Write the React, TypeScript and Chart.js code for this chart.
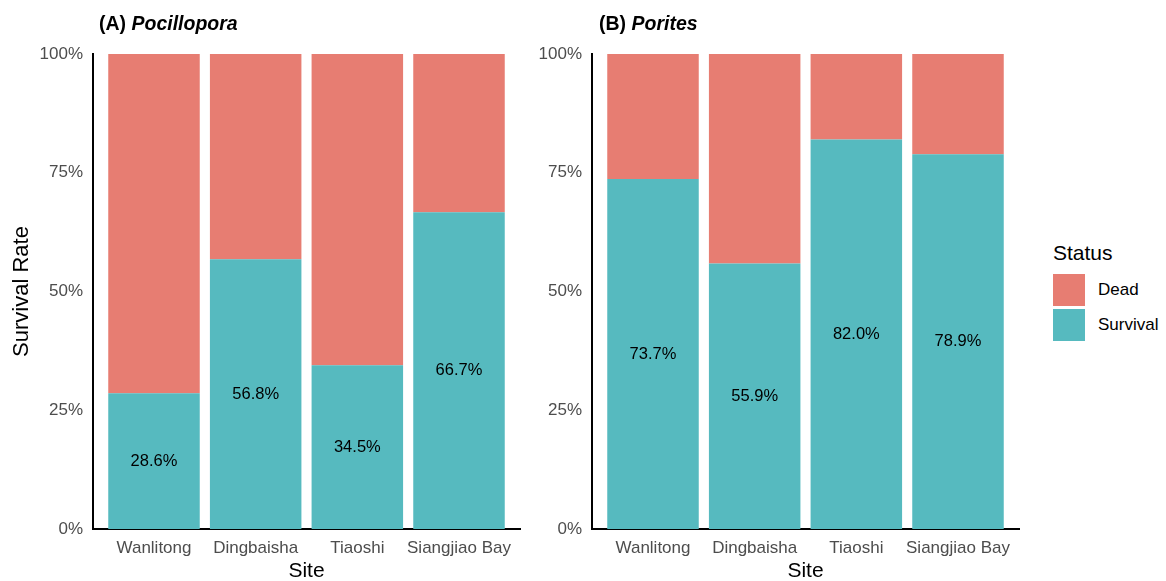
import React, { useEffect, useRef } from "react";
import { Chart, registerables } from "chart.js";

Chart.register(...registerables);

// Site categories and survival percentages per genus
const sites = ["Wanlitong", "Dingbaisha", "Tiaoshi", "Siangjiao Bay"];
const pocilloporaSurvival = [28.6, 56.8, 34.5, 66.7];
const poritesSurvival = [73.7, 55.9, 82.0, 78.9];
const yTickValues = [0, 25, 50, 75, 100];
const statusLabels = ["Dead", "Survival"];

const deadColor = "#E77D72";
const survivalColor = "#56BABF";
const FONT = "'Liberation Sans', Arial, Helvetica, sans-serif";
const tickColor = "#4D4D4D";

// Writes the survival percentage in the middle of each survival segment
const survivalLabelPlugin = {
  id: "survivalLabels",
  afterDatasetsDraw(chart: any) {
    const meta = chart.getDatasetMeta(0);
    const ds = chart.data.datasets[0];
    const ctx = chart.ctx;
    ctx.save();
    ctx.font = `16.5px ${FONT}`;
    ctx.fillStyle = "#000";
    ctx.textAlign = "center";
    ctx.textBaseline = "middle";
    meta.data.forEach((bar: any, i: number) => {
      const { x, y, base } = bar.getProps(["x", "y", "base"], true);
      const v = ds.data[i].y as number;
      ctx.fillText(v.toFixed(1) + "%", x, (y + base) / 2);
    });
    ctx.restore();
  },
};

function Panel({ survival, showYTitle, left }: { survival: number[]; showYTitle: boolean; left: number }) {
  const ref = useRef<HTMLCanvasElement>(null);

  useEffect(() => {
    if (!ref.current) return;
    const chart = new Chart(ref.current, {
      type: "bar",
      data: {
        datasets: [
          {
            label: "Survival",
            data: survival.map((v, i) => ({ x: i + 1, y: v })),
            backgroundColor: survivalColor,
            borderWidth: 0,
            categoryPercentage: 1,
            barPercentage: 0.9,
          },
          {
            label: "Dead",
            data: survival.map((v, i) => ({ x: i + 1, y: Math.round((100 - v) * 10) / 10 })),
            backgroundColor: deadColor,
            borderWidth: 0,
            categoryPercentage: 1,
            barPercentage: 0.9,
          },
        ],
      },
      options: {
        animation: false,
        responsive: false,
        layout: { padding: { top: 54, right: 20, left: 0, bottom: 0 } },
        plugins: { legend: { display: false }, tooltip: { enabled: false } },
        scales: {
          x: {
            type: "linear",
            min: 0.4,
            max: 4.6,
            offset: false,
            stacked: true,
            z: 1,
            grid: { display: false, offset: false },
            border: { display: true, color: "#000", width: 2 },
            afterBuildTicks: (axis: any) => {
              axis.ticks = sites.map((_, i) => ({ value: i + 1 }));
            },
            afterFit: (s: any) => {
              s.height = 52;
            },
            ticks: {
              callback: (v: any) => sites[Number(v) - 1] ?? "",
              color: tickColor,
              font: { family: FONT, size: 17 },
              padding: 1,
              maxRotation: 0,
              autoSkip: false,
            },
            title: {
              display: true,
              text: "Site",
              color: "#000",
              font: { family: FONT, size: 21 },
              padding: { top: 0, bottom: -3 },
            },
          },
          y: {
            type: "linear",
            min: 0,
            max: 100,
            stacked: true,
            z: 1,
            grid: { display: false },
            border: { display: true, color: "#000", width: 2 },
            afterBuildTicks: (axis: any) => {
              axis.ticks = yTickValues.map((v) => ({ value: v }));
            },
            afterFit: (s: any) => {
              s.width = 93;
            },
            ticks: {
              callback: (v: any) => `${v}%`,
              color: tickColor,
              font: { family: FONT, size: 17 },
              padding: 2,
            },
            title: {
              display: showYTitle,
              text: "Survival Rate",
              color: "#000",
              font: { family: FONT, size: 22 },
              padding: { top: 9, bottom: 0 },
            },
          },
        },
      },
      plugins: [survivalLabelPlugin],
    } as any);
    return () => chart.destroy();
  }, [survival, showYTitle]);

  return (
    <canvas
      ref={ref}
      width={540}
      height={581}
      style={{ position: "absolute", left, top: 0, width: 540, height: 581 }}
    />
  );
}

const titleStyle: React.CSSProperties = {
  position: "absolute",
  top: 13,
  fontFamily: FONT,
  fontSize: 19.5,
  fontWeight: "bold",
  lineHeight: "20px",
  color: "#000",
  whiteSpace: "nowrap",
};

export default function App() {
  const legendColors = [deadColor, survivalColor];
  return (
    <div
      style={{
        position: "absolute",
        left: 0,
        top: 0,
        width: 1166,
        height: 581,
        background: "#fff",
        overflow: "hidden",
        fontFamily: FONT,
      }}
    >
      <Panel survival={pocilloporaSurvival} showYTitle={true} left={0} />
      <Panel survival={poritesSurvival} showYTitle={false} left={499} />
      <div style={{ ...titleStyle, left: 99 }}>
        (A) <i>Pocillopora</i>
      </div>
      <div style={{ ...titleStyle, left: 599 }}>
        (B) <i>Porites</i>
      </div>
      <div
        style={{
          position: "absolute",
          left: 1053,
          top: 241,
          fontSize: 21,
          lineHeight: "24px",
          color: "#000",
        }}
      >
        Status
      </div>
      {statusLabels.map((label, i) => (
        <React.Fragment key={label}>
          <div
            style={{
              position: "absolute",
              left: 1053,
              top: 274 + i * 35,
              width: 32,
              height: 32,
              background: legendColors[i],
            }}
          />
          <div
            style={{
              position: "absolute",
              left: 1098,
              top: 280 + i * 35,
              fontSize: 17,
              lineHeight: "20px",
              color: "#000",
            }}
          >
            {label}
          </div>
        </React.Fragment>
      ))}
    </div>
  );
}
